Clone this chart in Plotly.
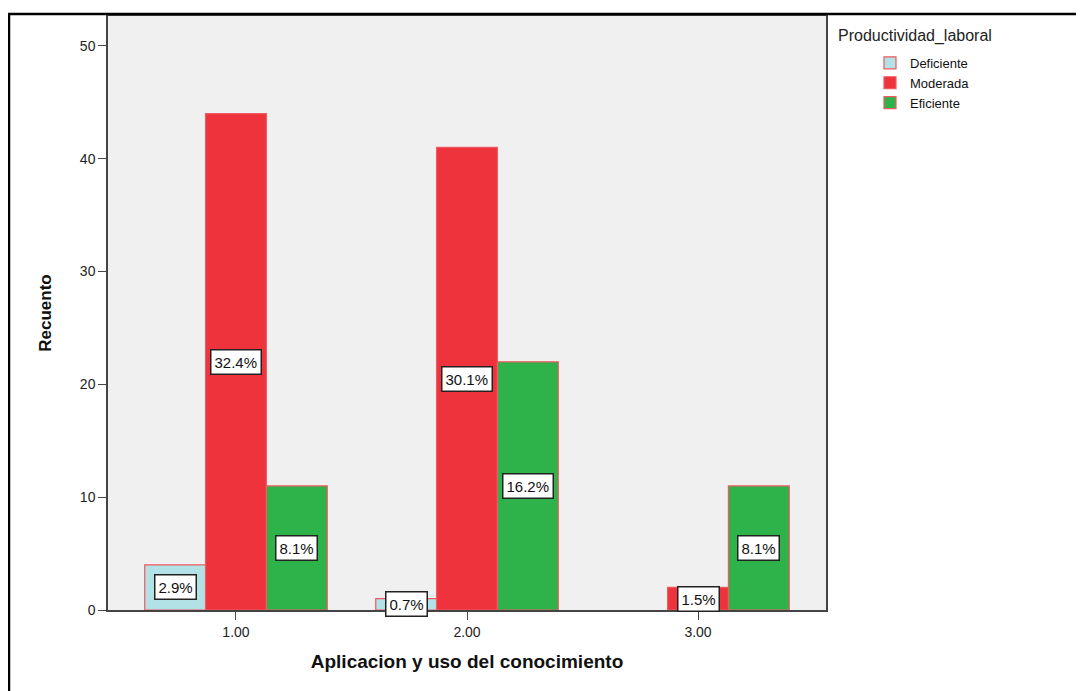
import plotly.graph_objects as go

categories = [1, 2, 3]
tick_labels = ["1.00", "2.00", "3.00"]
series_names = ["Deficiente", "Moderada", "Eficiente"]
deficiente = [4, 1, 0]
moderada = [44, 41, 2]
eficiente = [11, 22, 11]
series_values = [deficiente, moderada, eficiente]
colors = ["#B2E2E6", "#EF333C", "#2EB34B"]

total = sum(sum(s) for s in series_values)

# page has an 8px body margin; compensate so the plot lands where the reference has it
W, H = 1076, 683
ml, mr, mt, mb = 100, 258, 6, 81
pw, ph = W - ml - mr, H - mt - mb

bargap = 0.21
fig = go.Figure()
for name, vals, col in zip(series_names, series_values, colors):
    fig.add_trace(go.Bar(
        x=categories, y=vals, name=name,
        marker=dict(color=col, line=dict(color="#EE5A60",
                                         width=[1.2 if v else 0 for v in vals])),
    ))

n = len(series_names)
bw = (1 - bargap) / n
annotations = []
for i, vals in enumerate(series_values):
    off = (i - (n - 1) / 2) * bw
    for c, v in zip(categories, vals):
        if v == 0:
            continue
        annotations.append(dict(
            x=c + off, y=v / 2, xref="x", yref="y",
            text=f"{100 * v / total:.1f}%", showarrow=False,
            font=dict(family="Arial, Liberation Sans", size=15, color="#111"),
            bgcolor="white", bordercolor="#222", borderwidth=1.5, borderpad=3,
        ))

annotations.append(dict(
    x=(828 - ml) / pw, y=(H - mb - 26) / ph, xref="paper", yref="paper",
    xanchor="left", yanchor="middle", text="Productividad_laboral", showarrow=False,
    font=dict(family="Arial, Liberation Sans", size=16, color="#222"),
))

fig.update_layout(
    width=W, height=H,
    margin=dict(l=ml, r=mr, t=mt, b=mb),
    paper_bgcolor="white", plot_bgcolor="#F0F0F0",
    barmode="group", bargap=bargap, bargroupgap=0,
    font=dict(family="Arial, Liberation Sans", size=13, color="#222"),
    annotations=annotations,
    legend=dict(
        x=(862 - ml) / pw, y=(H - mb - 38) / ph, xanchor="left", yanchor="top",
        font=dict(size=13, color="#111"), bgcolor="rgba(0,0,0,0)",
        tracegroupgap=0, itemwidth=30,
    ),
    showlegend=True,
    xaxis=dict(
        range=[0.446, 3.554], tickvals=categories, ticktext=tick_labels,
        showgrid=False, zeroline=False, showline=True, mirror=True,
        linecolor="#444", linewidth=1.5, ticks="outside", ticklen=8,
        tickcolor="#444", tickfont=dict(size=14, color="#222"),
        title=dict(text="<b>Aplicacion y uso del conocimiento</b>",
                   font=dict(size=19, color="#111"), standoff=16),
    ),
    yaxis=dict(
        range=[0, 52.65], tickvals=[0, 10, 20, 30, 40, 50],
        showgrid=False, zeroline=False, showline=True, mirror=True,
        linecolor="#444", linewidth=1.5, ticks="outside", ticklen=8,
        tickcolor="#444", tickfont=dict(size=14, color="#222"),
        title=dict(text="<b>Recuento</b>", font=dict(size=17, color="#111"),
                   standoff=24),
    ),
    shapes=[dict(
        type="rect", xref="paper", yref="paper",
        x0=(1 - ml) / pw, x1=(W + 10 - ml) / pw,
        y0=(H - mb - (H + 10)) / ph, y1=(H - mb - 4) / ph,
        line=dict(color="black", width=2.5), fillcolor="rgba(0,0,0,0)",
        layer="above",
    )],
)

fig.write_html("out.html")
